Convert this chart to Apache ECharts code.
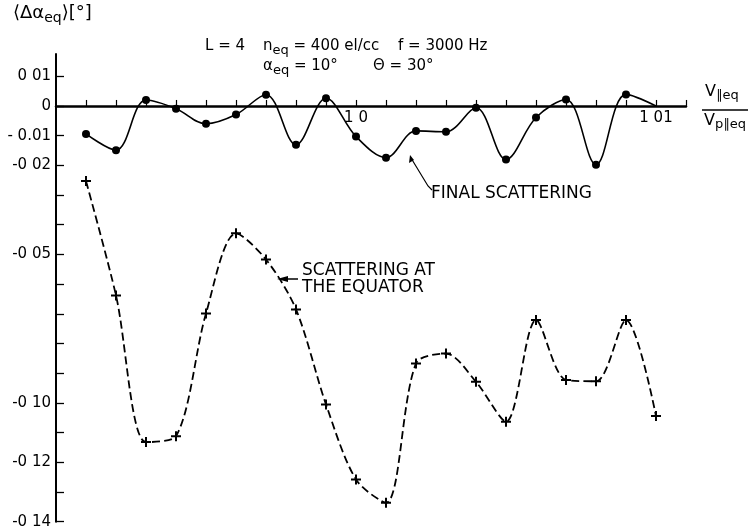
<!DOCTYPE html>
<html><head><meta charset="utf-8">
<script src="https://cdn.jsdelivr.net/npm/echarts@6/dist/echarts.min.js"></script>
<style>html,body{margin:0;padding:0;background:#fff}#c{width:749px;height:531px}</style>
</head><body><div id="c"></div>
<script>
// ---- data ----
const xFinal = [0.991,0.992,0.993,0.994,0.995,0.996,0.997,0.998,0.999,1.000,1.001,1.002,1.003,1.004,1.005,1.006,1.007,1.008,1.009,1.010];
const finalScattering = [-0.0094,-0.0149,0.0020,-0.0009,-0.0060,-0.0029,0.0038,-0.0131,0.0026,-0.0103,-0.0174,-0.0084,-0.0087,-0.0006,-0.0180,-0.0039,0.0022,-0.0198,0.0039,0.0000];
const xEquator = [0.991,0.992,0.993,0.994,0.995,0.996,0.997,0.998,0.999,1.000,1.001,1.002,1.003,1.004,1.005,1.006,1.007,1.008,1.009,1.010];
const equatorScattering = [-0.0253,-0.0638,-0.1132,-0.1112,-0.0699,-0.0429,-0.0517,-0.0685,-0.1005,-0.1258,-0.1336,-0.0867,-0.0834,-0.0929,-0.1063,-0.0721,-0.0923,-0.0927,-0.0721,-0.1044];
const yLabelValues = [0.01,0,-0.01,-0.02,-0.05,-0.10,-0.12,-0.14];
const yLabelTexts = ['0 01','0','- 0.01','-0 02','-0 05','-0 10','-0 12','-0 14'];
const yTickValues = [0.01,0,-0.01,-0.02,-0.03,-0.04,-0.05,-0.06,-0.07,-0.08,-0.09,-0.10,-0.11,-0.12,-0.13,-0.14];
const xLabelValues = [1.000,1.010];
const xLabelTexts = ['1 0','1 01'];
const xTickValues = [0.991,0.992,0.993,0.994,0.995,0.996,0.997,0.998,0.999,1.000,1.001,1.002,1.003,1.004,1.005,1.006,1.007,1.008,1.009,1.010,1.011];

const FONT = 'DejaVu Sans';
const Y_MIN = -0.14, Y_MAX = 0.0175;
const GRID = {left:56,right:63,top:54,bottom:9.3};
const chart = echarts.init(document.getElementById('c'), null, {renderer:'canvas'});
const finalData = xFinal.map((x,i)=> i===xFinal.length-1 ? {value:[x,finalScattering[i]], symbol:'none'} : [x,finalScattering[i]]);
const eqData = xEquator.map((x,i)=>[x,equatorScattering[i]]);
const plus = 'path://M-1,-5H1V-1H5V1H1V5H-1V1H-5V-1H-1Z';
// place the x axis line (with its labels) at y = 0
const gridH = 531 - GRID.top - GRID.bottom;
const zeroFromBottom = (0 - Y_MIN) / (Y_MAX - Y_MIN) * gridH;

chart.setOption({
  animation:false,
  backgroundColor:'#fff',
  grid:GRID,
  xAxis:{type:'value',min:0.990,max:1.011,position:'bottom',offset:-zeroFromBottom,
    axisLine:{onZero:false,lineStyle:{color:'#000',width:2.5}},
    axisTick:{inside:true,length:6,lineStyle:{color:'#000',width:1.2},customValues:xTickValues},
    axisLabel:{customValues:xLabelValues,margin:5,color:'#000',fontFamily:FONT,fontSize:15,
      formatter:v=>{const i=xLabelValues.findIndex(t=>Math.abs(t-v)<1e-6);return i>=0?xLabelTexts[i]:'';}},
    splitLine:{show:false}},
  yAxis:{type:'value',min:Y_MIN,max:Y_MAX,
    axisLine:{show:true,onZero:false,lineStyle:{color:'#000',width:2}},
    axisTick:{show:true,inside:true,length:8,lineStyle:{color:'#000',width:1.3},customValues:yTickValues},
    axisLabel:{customValues:yLabelValues,margin:5,color:'#000',fontFamily:FONT,fontSize:15,
      formatter:v=>{const i=yLabelValues.findIndex(t=>Math.abs(t-v)<1e-6);return i>=0?yLabelTexts[i]:'';}},
    splitLine:{show:false}},
  series:[
    {type:'line',name:'Final scattering',data:finalData,smooth:0.35,
      symbol:'circle',symbolSize:8,itemStyle:{color:'#000'},
      lineStyle:{color:'#000',width:1.6},z:3},
    {type:'line',name:'Scattering at the equator',data:eqData,smooth:0.3,
      symbol:plus,symbolSize:10,itemStyle:{color:'#000'},
      lineStyle:{color:'#000',width:1.8,type:[8,4]},z:3}
  ],
  graphic:[
    {type:'text',left:13,top:4,style:{text:'⟨Δα{s|eq}⟩[°]',font:'18px '+FONT,fill:'#000',
      rich:{s:{fontSize:14,fontFamily:FONT,padding:[11,0,0,0]}}}},
    {type:'text',left:205,top:39,style:{text:'L = 4',font:'15px '+FONT,fill:'#000'}},
    {type:'text',left:263,top:39,style:{text:'n{s|eq} = 400 el/cc',font:'15px '+FONT,fill:'#000',
      rich:{s:{fontSize:13,fontFamily:FONT,padding:[9,0,0,0]}}}},
    {type:'text',left:398,top:39,style:{text:'f = 3000 Hz',font:'15px '+FONT,fill:'#000'}},
    {type:'text',left:263,top:59,style:{text:'α{s|eq} = 10°',font:'15px '+FONT,fill:'#000',
      rich:{s:{fontSize:13,fontFamily:FONT,padding:[9,0,0,0]}}}},
    {type:'text',left:373,top:59,style:{text:'Θ = 30°',font:'15px '+FONT,fill:'#000'}},
    {type:'text',left:705,top:84,style:{text:'V{s|∥eq}',font:'16px '+FONT,fill:'#000',
      rich:{s:{fontSize:13,fontFamily:FONT,padding:[7,0,0,0]}}}},
    {type:'line',shape:{x1:702,y1:110,x2:748,y2:110},style:{stroke:'#000',lineWidth:1.5}},
    {type:'text',left:704,top:113,style:{text:'V{s|p∥eq}',font:'16px '+FONT,fill:'#000',
      rich:{s:{fontSize:13,fontFamily:FONT,padding:[7,0,0,0]}}}},
    {type:'text',left:431,top:185,style:{text:'FINAL SCATTERING',font:'17px '+FONT,fill:'#000'}},
    {type:'polyline',shape:{points:[[411,158],[428,186],[432,190]]},style:{stroke:'#000',lineWidth:1.2,fill:null}},
    {type:'polygon',shape:{points:[[410,155],[409,163],[414,160]]},style:{fill:'#000'}},
    {type:'text',left:302,top:262,style:{text:'SCATTERING AT',font:'17px '+FONT,fill:'#000'}},
    {type:'text',left:302,top:279,style:{text:'THE EQUATOR',font:'17px '+FONT,fill:'#000'}},
    {type:'line',shape:{x1:284,y1:279,x2:298,y2:279},style:{stroke:'#000',lineWidth:1.5}},
    {type:'polygon',shape:{points:[[277,279],[288,276],[288,282]]},style:{fill:'#000'}}
  ]
});
</script></body></html>
